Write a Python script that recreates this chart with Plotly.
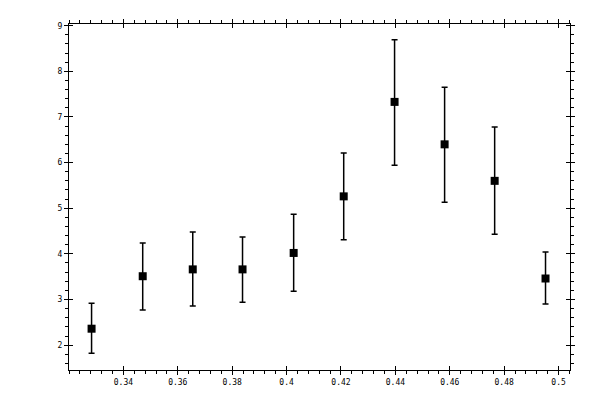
import plotly.graph_objects as go

x_vals = [0.3283, 0.3471, 0.3655, 0.3838, 0.4026, 0.4210, 0.4397, 0.4581, 0.4765, 0.4952]
y_vals = [2.36, 3.51, 3.66, 3.66, 4.02, 5.26, 7.33, 6.40, 5.60, 3.46]
err_up = [0.56, 0.73, 0.82, 0.71, 0.85, 0.95, 1.36, 1.25, 1.18, 0.58]
err_down = [0.54, 0.74, 0.80, 0.72, 0.84, 0.95, 1.39, 1.27, 1.17, 0.56]

x_ticks = [0.34, 0.36, 0.38, 0.40, 0.42, 0.44, 0.46, 0.48, 0.50]
x_labels = ["0.34", "0.36", "0.38", "0.4", "0.42", "0.44", "0.46", "0.48", "0.5"]
y_ticks = [2, 3, 4, 5, 6, 7, 8, 9]
y_labels = ["2", "3", "4", "5", "6", "7", "8", "9"]

X_RANGE = [0.32, 0.5042]
Y_RANGE = [1.455, 9.037]

fig = go.Figure()

fig.add_trace(go.Scatter(
    x=x_vals,
    y=y_vals,
    mode="markers",
    marker=dict(symbol="square", size=8, color="black"),
    error_y=dict(
        type="data",
        symmetric=False,
        array=err_up,
        arrayminus=err_down,
        color="black",
        thickness=1.5,
        width=3,
    ),
    showlegend=False,
))

# invisible trace so the overlay axes (inner half of major ticks) get drawn
fig.add_trace(go.Scatter(
    x=[x_vals[0]], y=[y_vals[0]], xaxis="x2", yaxis="y2",
    mode="markers", marker=dict(opacity=0), showlegend=False, hoverinfo="skip",
))

font = dict(family="DejaVu Sans Mono", size=8, color="black")

# page body adds 8px, so margins are shifted to compensate
fig.update_layout(
    width=600,
    height=400,
    margin=dict(l=61, r=38, t=11, b=38),
    paper_bgcolor="white",
    plot_bgcolor="white",
    font=font,
    xaxis=dict(
        range=X_RANGE,
        tickvals=x_ticks,
        ticktext=x_labels,
        ticks="outside",
        ticklen=4,
        tickwidth=1,
        tickcolor="black",
        showline=True,
        linecolor="black",
        linewidth=1,
        mirror="ticks",
        showgrid=False,
        zeroline=False,
        tickfont=font,
        minor=dict(dtick=0.004, tick0=0.34, ticks="outside", ticklen=3,
                   tickcolor="black", showgrid=False),
    ),
    yaxis=dict(
        range=Y_RANGE,
        tickvals=y_ticks,
        ticktext=y_labels,
        ticks="outside",
        ticklen=4,
        tickwidth=1,
        tickcolor="black",
        showline=True,
        linecolor="black",
        linewidth=1,
        mirror="ticks",
        showgrid=False,
        zeroline=False,
        tickfont=font,
        minor=dict(dtick=0.2, tick0=2, ticks="outside", ticklen=3,
                   tickcolor="black", showgrid=False),
    ),
    xaxis2=dict(
        overlaying="x",
        range=X_RANGE,
        tickvals=x_ticks,
        showticklabels=False,
        ticks="inside",
        ticklen=4,
        tickcolor="black",
        mirror="ticks",
        showline=False,
        showgrid=False,
        zeroline=False,
    ),
    yaxis2=dict(
        overlaying="y",
        range=Y_RANGE,
        tickvals=y_ticks,
        showticklabels=False,
        ticks="inside",
        ticklen=4,
        tickcolor="black",
        mirror="ticks",
        showline=False,
        showgrid=False,
        zeroline=False,
    ),
)

fig.write_html("out.html")
